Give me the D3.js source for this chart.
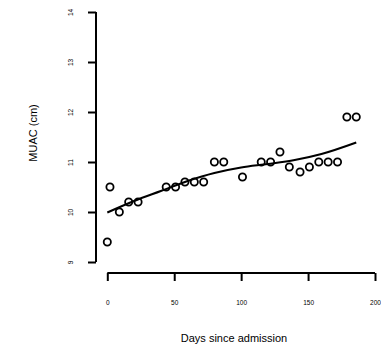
<!DOCTYPE html>
<html><head><meta charset="utf-8">
<script src="https://cdn.jsdelivr.net/npm/d3@7"></script>
<style>body{margin:0;background:#fff}svg{display:block}</style>
</head><body>
<script>
const days = [0, 2, 9, 16, 23, 44, 51, 58, 65, 72, 80, 87, 101, 115, 122, 129, 136, 144, 151, 158, 165, 172, 179, 186];
const muac = [9.4, 10.5, 10.0, 10.2, 10.2, 10.5, 10.5, 10.6, 10.6, 10.6, 11.0, 11.0, 10.7, 11.0, 11.0, 11.2, 10.9, 10.8, 10.9, 11.0, 11.0, 11.0, 11.9, 11.9];
const fitDays = [0, 20, 40, 60, 80, 100, 120, 140, 160, 186];
const fitVals = [9.99, 10.22, 10.42, 10.62, 10.78, 10.89, 10.96, 11.04, 11.16, 11.39];
const xTicks = [0, 50, 100, 150, 200];
const yTicks = [9, 10, 11, 12, 13, 14];

const W = 381, H = 350;
const svg = d3.select("body").append("svg").attr("width", W).attr("height", H);
const x = d3.scaleLinear().domain([0, 200]).range([107.3, 375]);
const y = d3.scaleLinear().domain([9, 14]).range([262, 12]);

// y axis
const ya = svg.append("g").attr("transform", "translate(96,0)")
  .call(d3.axisLeft(y).tickValues(yTicks).tickSize(8).tickFormat(d3.format("d")));
ya.select(".domain").attr("stroke", "#000").attr("stroke-width", 2).attr("d", `M0,${y(9)}V${y(14)}`);
ya.selectAll(".tick line").attr("stroke", "#000").attr("stroke-width", 2);
ya.selectAll(".tick text").attr("font-family", "Liberation Sans, Arial, sans-serif").attr("font-size", 6.5)
  .attr("fill", "#000").attr("x", null).attr("dy", null).attr("text-anchor", "middle")
  .attr("transform", "translate(-25,0) rotate(-90)").attr("dy", "0.35em");

// x axis
const xa = svg.append("g").attr("transform", "translate(0,273)")
  .call(d3.axisBottom(x).tickValues(xTicks).tickSize(8));
xa.select(".domain").attr("stroke", "#000").attr("stroke-width", 2).attr("d", `M${x(0)},0H${x(200)}`);
xa.selectAll(".tick line").attr("stroke", "#000").attr("stroke-width", 2);
xa.selectAll(".tick text").attr("font-family", "Liberation Sans, Arial, sans-serif").attr("font-size", 6.5)
  .attr("fill", "#000").attr("y", 30).attr("dy", "0.35em");

// fitted curve
svg.append("path").datum(fitDays.map((d, i) => [d, fitVals[i]]))
  .attr("fill", "none").attr("stroke", "#000").attr("stroke-width", 2)
  .attr("d", d3.line().x(d => x(d[0])).y(d => y(d[1])).curve(d3.curveMonotoneX));

// points
svg.append("g").selectAll("circle").data(days.map((d, i) => [d, muac[i]])).join("circle")
  .attr("cx", d => x(d[0])).attr("cy", d => y(d[1])).attr("r", 3.6)
  .attr("fill", "none").attr("stroke", "#000").attr("stroke-width", 1.8);

// axis titles
svg.append("text").attr("x", 234).attr("y", 342).attr("text-anchor", "middle")
  .attr("font-family", "Liberation Sans, Arial, sans-serif").attr("font-size", 11).text("Days since admission");
svg.append("text").attr("transform", "translate(37,133) rotate(-90)").attr("text-anchor", "middle")
  .attr("font-family", "Liberation Sans, Arial, sans-serif").attr("font-size", 11).text("MUAC (cm)");
</script>
</body></html>
